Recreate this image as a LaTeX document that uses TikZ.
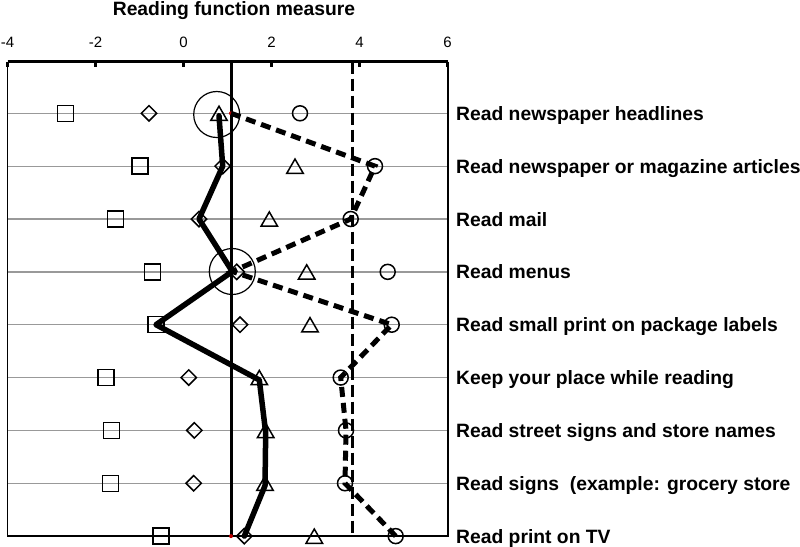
\documentclass[tikz,border=0pt]{standalone}
\usepackage{fontspec}
\setmainfont{Liberation Sans}
\usetikzlibrary{shapes.geometric}
\tikzset{
  mk/.style={draw=black, line width=1.5pt, inner sep=0pt, fill=none},
  sq/.style={mk, rectangle, minimum size=16pt},
  dm/.style={mk, diamond, minimum width=16pt, minimum height=16pt, aspect=1},
  tr/.style={mk, regular polygon, regular polygon sides=3, minimum size=19pt, yshift=-2.4pt},
  ci/.style={mk, circle, minimum size=15pt},
  bigci/.style={draw=black, line width=1.2pt, circle, minimum size=46pt, inner sep=0pt},
  reddot/.style={circle, fill=red!75!black, minimum size=4pt, inner sep=0pt},
  grid/.style={draw=black!40, line width=1.3pt},
  solidser/.style={line width=5.5pt, line join=round, line cap=round},
  dashser/.style={line width=5pt, dash pattern=on 10pt off 6pt},
  refsolid/.style={line width=3pt},
  refdash/.style={line width=3pt, dash pattern=on 12pt off 5pt},
  rowlabel/.style={anchor=base west, inner sep=0pt, font=\fontsize{19.3}{22}\selectfont\bfseries},
  ticklabel/.style={anchor=base, inner sep=0pt, font=\fontsize{15}{18}\selectfont},
}
\begin{document}
\begin{tikzpicture}[x=1pt,y=-1pt]
\useasboundingbox (0,0) rectangle (800,546);
% title
\node[anchor=base, inner sep=0pt, font=\fontsize{19.3}{22}\selectfont\bfseries] (title) at (234,15) {Reading function measure};
% tick labels
\foreach \v/\x in {-4/7.5,-2/95.5,0/183.5,2/271.5,4/359.5,6/447.5}
  \node[ticklabel] (lab\v) at (\x,47.3) {\v};
% grid lines
\foreach \i in {1,...,8}
  \draw[grid] (7.5,{113.3+(\i-1)*52.85}) -- (447.7,{113.3+(\i-1)*52.85});
% box
\draw[line width=1.8pt] (7.5,61.7) -- (7.5,536.1) -- (447.7,536.1) -- (447.7,61.7);
\draw[line width=3.5pt] (7.5,61.7) -- (447.7,61.7);
\foreach \x in {7.5,95.5,183.5,271.5,359.5,447.5}
  \draw[line width=2.5pt] (\x,61.7) -- (\x,67);
% reference lines
\draw[refsolid] (231,60.5) -- (231,536.1);
\draw[refdash] (352.3,61.7) -- (352.3,533);
% markers
\foreach \i/\x in {1/65.7,2/140,3/115.7,4/152.7,5/156,6/106,7/111.7,8/110.7,9/161}
  \node[sq] (s\i) at (\x,{113.3+(\i-1)*52.85}) {};
\foreach \i/\x in {1/149,2/222.7,3/199,4/236.7,5/240,6/188.7,7/194.3,8/193.7,9/244.3}
  \node[dm] (d\i) at (\x,{113.3+(\i-1)*52.85}) {};
\foreach \i/\x in {1/219,2/295,3/269.3,4/306.7,5/310,6/259.3,7/265.7,8/265,9/314.3}
  \node[tr] (t\i) at (\x,{113.3+(\i-1)*52.85}) {};
\foreach \i/\x in {1/300,2/375,3/350.7,4/387.7,5/391.7,6/340.7,7/346,8/345,9/395.7}
  \node[ci] (c\i) at (\x,{113.3+(\i-1)*52.85}) {};
\node[bigci] (B1) at (216.7,114.5) {};
\node[bigci] (B4) at (232.3,271.5) {};
\node[reddot] (r1) at (231,113.3) {};
\node[reddot] (r9) at (231,536.1) {};
% series lines
\draw[solidser] (t1.center) -- (d2.center) -- (d3.center) -- (B4.center) -- (s5.center) -- (t6.center) -- (t7.center) -- (t8.center) -- (d9.center);
\draw[dashser] (r1.center) -- (c2.center) -- (c3.center) -- (B4.center) -- (c5.center) -- (c6.center) -- (c7.center) -- (c8.center) -- (c9.center);
% row labels
\node[rowlabel] (L1) at (456,{113.3+0*52.85+7}) {Read newspaper headlines};
\node[rowlabel] (L2) at (456,{113.3+1*52.85+7}) {Read newspaper or magazine articles};
\node[rowlabel] (L3) at (456,{113.3+2*52.85+7}) {Read mail};
\node[rowlabel] (L4) at (456,{113.3+3*52.85+7}) {Read menus};
\node[rowlabel] (L5) at (456,{113.3+4*52.85+7}) {Read small print on package labels};
\node[rowlabel] (L6) at (456,{113.3+5*52.85+7}) {Keep your place while reading};
\node[rowlabel] (L7) at (456,{113.3+6*52.85+7}) {Read street signs and store names};
\node[rowlabel] (L8) at (456,{113.3+7*52.85+7}) {Read signs\ \ (example: grocery store};
\node[rowlabel] (L9) at (456,{113.3+8*52.85+7}) {Read print on TV};
\end{tikzpicture}
\end{document}
